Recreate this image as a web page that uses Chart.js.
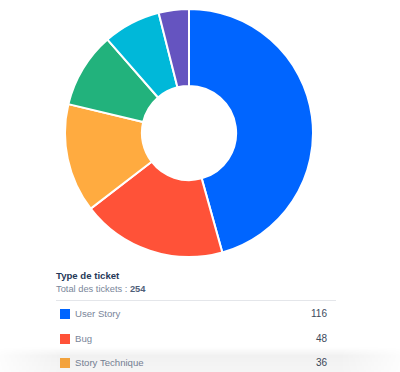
<!DOCTYPE html>
<html>
<head>
<meta charset="utf-8">
<script src="https://cdn.jsdelivr.net/npm/chart.js@4.4.0/dist/chart.umd.min.js"></script>
<style>
  html, body { margin: 0; padding: 0; background: #fff; width: 400px; height: 372px; overflow: hidden; font-family: "Liberation Sans", "Noto Sans", sans-serif; }
  #wrap { position: absolute; left: 64px; top: 8px; width: 250px; height: 250px; }
  #title { position: absolute; left: 56px; top: 270px; font-size: 9.6px; line-height: 12px; font-weight: 700; color: #253858; }
  #total { position: absolute; left: 56px; top: 282.5px; font-size: 9.3px; line-height: 12px; color: #7a869a; }
  #total b { color: #505f79; }
  #sep { position: absolute; left: 56px; top: 300px; width: 280px; height: 1px; background: #e4e6ea; }
  .row { position: absolute; left: 60px; width: 267px; height: 12px; font-size: 9.6px; line-height: 12px; }
  .sw { position: absolute; left: 0; top: 0; width: 10px; height: 10px; }
  .lbl { position: absolute; left: 15px; top: -1px; color: #7a869a; }
  .val { position: absolute; right: 0; top: -1px; color: #3d4a5c; font-size: 10px; }
  #shade { position: absolute; left: 0; top: 347px; width: 400px; height: 25px;
    background: linear-gradient(to bottom, rgba(0,0,0,0) 0%, rgba(0,0,0,0.055) 35%, rgba(0,0,0,0.04) 100%);
    -webkit-mask-image: linear-gradient(to right, rgba(0,0,0,0.2), #000 15%, #000 85%, rgba(0,0,0,0.2));
    mask-image: linear-gradient(to right, rgba(0,0,0,0.2), #000 15%, #000 85%, rgba(0,0,0,0.2)); }
</style>
</head>
<body>
<div id="wrap"><canvas id="c"></canvas></div>
<div id="title">Type de ticket</div>
<div id="total">Total des tickets : <b id="tot"></b></div>
<div id="sep"></div>
<div id="legend"></div>
<div id="shade"></div>
<script>
const categories = ["User Story", "Bug", "Story Technique", "Tâche", "Sous-tâche", "Epic"];
const counts = [116, 48, 36, 25, 19, 10];
const sliceColors = ["#0065ff", "#ff5238", "#ffab40", "#22b27c", "#00b8d9", "#6554c0"];
const shownRows = 3;

const total = counts.reduce((a, b) => a + b, 0);
document.getElementById('tot').textContent = total;

const legend = document.getElementById('legend');
for (let i = 0; i < shownRows; i++) {
  const r = document.createElement('div');
  r.className = 'row';
  r.style.top = (309 + i * 24.5) + 'px';
  r.innerHTML = '<div class="sw" style="background:' + sliceColors[i] + '"></div>' +
    '<div class="lbl">' + categories[i] + '</div><div class="val">' + counts[i] + '</div>';
  legend.appendChild(r);
}

new Chart(document.getElementById('c'), {
  type: 'doughnut',
  data: {
    labels: categories,
    datasets: [{
      data: counts,
      backgroundColor: sliceColors,
      borderColor: '#ffffff',
      borderWidth: 2
    }]
  },
  options: {
    responsive: true,
    maintainAspectRatio: false,
    animation: false,
    cutout: '38%',
    layout: { padding: 0 },
    events: [],
    plugins: { legend: { display: false }, tooltip: { enabled: false } }
  }
});
</script>
</body>
</html>
